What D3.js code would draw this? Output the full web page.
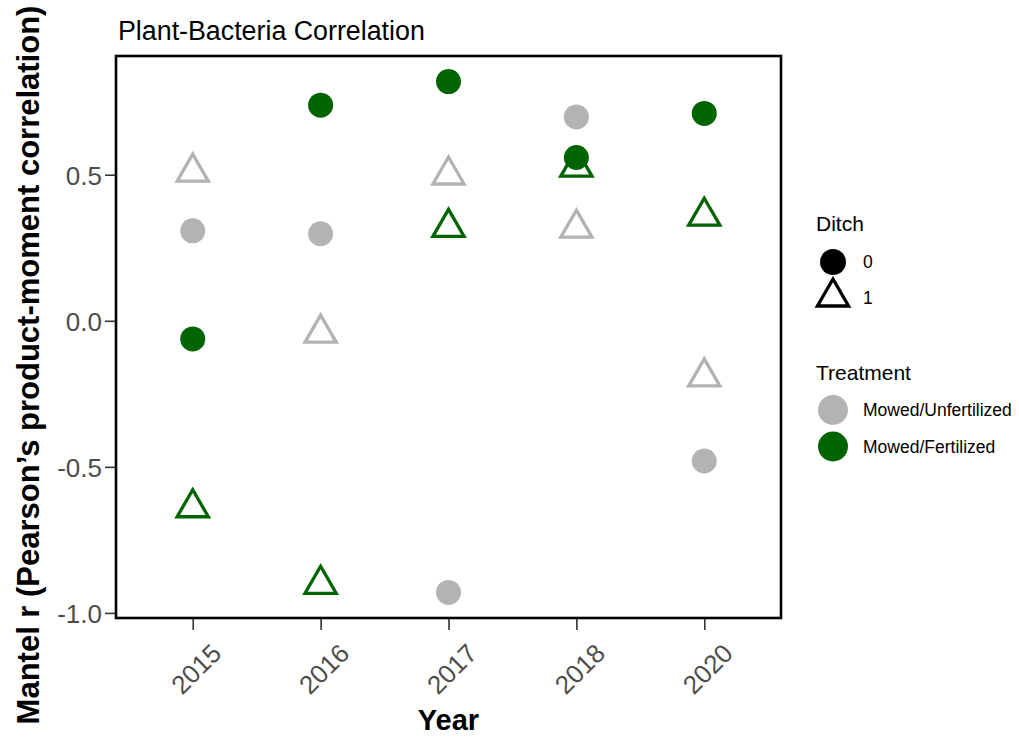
<!DOCTYPE html>
<html>
<head>
<meta charset="utf-8">
<script src="https://cdn.jsdelivr.net/npm/d3@7"></script>
<style>
  html, body { margin: 0; padding: 0; background: #fff; }
  svg { display: block; font-family: "Liberation Sans", Arial, sans-serif; }
</style>
</head>
<body>
<svg id="chart" width="1019" height="738"></svg>
<script>
// Mantel correlations between plant and bacterial communities, by year
const years = ["2015", "2016", "2017", "2018", "2020"];
const treatments = ["Mowed/Unfertilized", "Mowed/Fertilized"];
const ditchLevels = ["0", "1"];
const yTicks = [-1.0, -0.5, 0.0, 0.5];

// one array per treatment x ditch combination, ordered like `years`
const unfertilizedDitch0 = [0.308, 0.298, -0.930, 0.698, -0.480];
const unfertilizedDitch1 = [0.509, -0.042, 0.499, 0.317, -0.192];
const fertilizedDitch0   = [-0.062, 0.738, 0.819, 0.559, 0.710];
const fertilizedDitch1   = [-0.640, -0.902, 0.320, 0.526, 0.358];

const treatmentColors = ["#B3B3B3", "#006400"];

// long-format rows for plotting
const series = [
  { treatment: treatments[0], ditch: "1", values: unfertilizedDitch1 },
  { treatment: treatments[1], ditch: "1", values: fertilizedDitch1 },
  { treatment: treatments[0], ditch: "0", values: unfertilizedDitch0 },
  { treatment: treatments[1], ditch: "0", values: fertilizedDitch0 }
];
const rows = series.flatMap(s => s.values.map((v, i) => ({
  year: years[i], value: v, treatment: s.treatment, ditch: s.ditch
})));

const svg = d3.select("#chart");
const panel = { left: 116, right: 781, top: 56, bottom: 618 };

const color = d3.scaleOrdinal().domain(treatments).range(treatmentColors);

const x = d3.scalePoint().domain(years)
  .range([panel.left, panel.right]).padding(0.6);

const ext = d3.extent(rows, d => d.value);
const pad = (ext[1] - ext[0]) * 0.05;
const y = d3.scaleLinear().domain([ext[0] - pad, ext[1] + pad])
  .range([panel.bottom, panel.top]);

const circleR = 12.5;
const triR = 18;
const triStroke = 3.3;
function triPath(r) {
  const h = r * Math.sqrt(3) / 2;
  return `M0,${-r}L${h},${r / 2}L${-h},${r / 2}Z`;
}

// axes
const tickColor = "#333333";
const textGray = "#4D4D4D";
const fmt = d => d3.format(".1f")(d).replace("\u2212", "-");

const xAxis = svg.append("g")
  .attr("transform", `translate(0,${panel.bottom})`)
  .call(d3.axisBottom(x).tickSize(12).tickSizeOuter(0));
xAxis.select(".domain").remove();
xAxis.selectAll(".tick line").attr("stroke", tickColor).attr("stroke-width", 1.6);
xAxis.selectAll(".tick text")
  .attr("fill", textGray)
  .style("font-size", "26px")
  .attr("text-anchor", "middle")
  .attr("dy", null)
  .attr("y", 0)
  .attr("transform", "translate(3,51) rotate(-45)")
  .attr("dominant-baseline", "central");

const yAxis = svg.append("g")
  .attr("transform", `translate(${panel.left},0)`)
  .call(d3.axisLeft(y).tickValues(yTicks).tickFormat(fmt).tickSize(11).tickSizeOuter(0));
yAxis.select(".domain").remove();
yAxis.selectAll(".tick line").attr("stroke", tickColor).attr("stroke-width", 1.6);
yAxis.selectAll(".tick text")
  .attr("fill", textGray)
  .style("font-size", "26px")
  .attr("x", -14)
  .attr("dy", "0.36em");

// points
const plot = svg.append("g");
plot.selectAll("path.tri")
  .data(rows.filter(d => d.ditch === "1"))
  .join("path")
  .attr("class", "tri")
  .attr("d", triPath(triR))
  .attr("transform", d => `translate(${x(d.year)},${y(d.value)})`)
  .attr("fill", "none")
  .attr("stroke", d => color(d.treatment))
  .attr("stroke-width", triStroke)
  .attr("stroke-linejoin", "miter");

plot.selectAll("circle.dot")
  .data(rows.filter(d => d.ditch === "0"))
  .join("circle")
  .attr("class", "dot")
  .attr("cx", d => x(d.year))
  .attr("cy", d => y(d.value))
  .attr("r", circleR)
  .attr("fill", d => color(d.treatment));

// panel border
svg.append("rect")
  .attr("x", panel.left).attr("y", panel.top)
  .attr("width", panel.right - panel.left)
  .attr("height", panel.bottom - panel.top)
  .attr("fill", "none")
  .attr("stroke", "#000")
  .attr("stroke-width", 2.6);

// titles
svg.append("text")
  .attr("x", 118).attr("y", 40)
  .style("font-size", "26.8px")
  .attr("fill", "#000")
  .text("Plant-Bacteria Correlation");

svg.append("text")
  .attr("x", (panel.left + panel.right) / 2).attr("y", 730)
  .attr("text-anchor", "middle")
  .style("font-size", "29px").style("font-weight", "bold")
  .text("Year");

svg.append("text")
  .attr("transform", `translate(39,${(panel.top + panel.bottom) / 2 + 28}) rotate(-90)`)
  .attr("text-anchor", "middle")
  .style("font-size", "31px").style("font-weight", "bold")
  .text("Mantel r (Pearson\u2019s product-moment correlation)");

// legend: Ditch (shape)
const lg = svg.append("g");
lg.append("text").attr("x", 816).attr("y", 231)
  .style("font-size", "21px").text("Ditch");
const ditchKeys = lg.selectAll("g.dk").data(ditchLevels).join("g")
  .attr("class", "dk")
  .attr("transform", (d, i) => `translate(833,${262 + i * 36})`);
ditchKeys.each(function(d) {
  const g = d3.select(this);
  if (d === "0") {
    g.append("circle").attr("r", 13).attr("fill", "#000");
  } else {
    g.append("path").attr("d", triPath(triR))
      .attr("transform", "translate(0,-1)")
      .attr("fill", "none").attr("stroke", "#000")
      .attr("stroke-width", triStroke).attr("stroke-linejoin", "miter");
  }
  g.append("text").attr("x", 30).attr("dy", "0.35em")
    .style("font-size", "17.5px").text(d);
});

// legend: Treatment (colour)
lg.append("text").attr("x", 816).attr("y", 380)
  .style("font-size", "21px").text("Treatment");
const trKeys = lg.selectAll("g.tk").data(treatments).join("g")
  .attr("class", "tk")
  .attr("transform", (d, i) => `translate(833,${410 + i * 36.5})`);
trKeys.append("circle").attr("r", 15).attr("fill", d => color(d));
trKeys.append("text").attr("x", 30).attr("dy", "0.35em")
  .style("font-size", "17.5px").text(d => d);
</script>
</body>
</html>
